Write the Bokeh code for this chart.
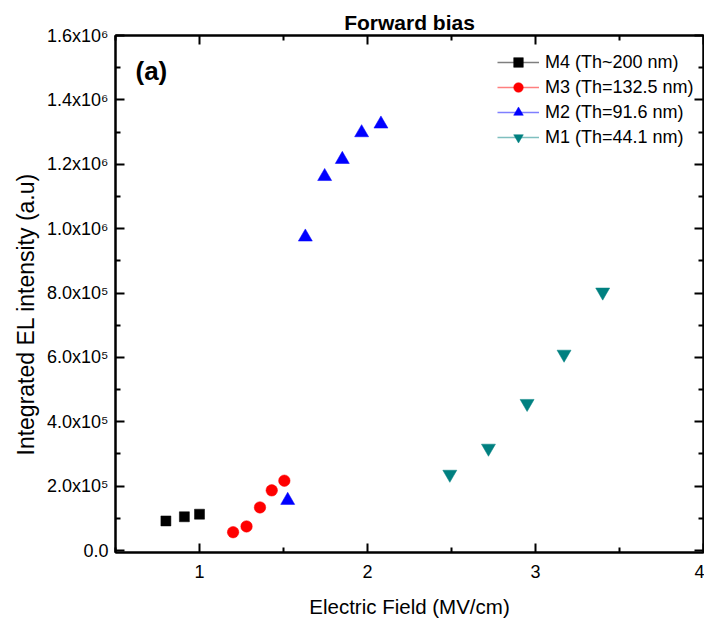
from bokeh.plotting import figure
from bokeh.models import (ColumnDataSource, FixedTicker, LinearAxis, Range1d,
                          Legend, LegendItem, Label, CustomJSTickFormatter, Title)
from bokeh.embed import file_html
from bokeh.resources import INLINE

FONT = "Liberation Sans"

# ---- data ----
m4_x = [0.80, 0.91, 1.00]
m4_y = [9.2e4, 1.05e5, 1.13e5]
m3_x = [1.20, 1.28, 1.36, 1.43, 1.505]
m3_y = [5.7e4, 7.5e4, 1.34e5, 1.87e5, 2.17e5]
m2_x = [1.525, 1.63, 1.745, 1.85, 1.965, 2.08]
m2_y = [1.56e5, 9.74e5, 1.162e6, 1.215e6, 1.298e6, 1.325e6]
m1_x = [2.49, 2.72, 2.95, 3.17, 3.40]
m1_y = [2.37e5, 3.18e5, 4.57e5, 6.10e5, 8.03e5]

series_names = ["M4 (Th~200 nm)", "M3 (Th=132.5 nm)", "M2 (Th=91.6 nm)", "M1 (Th=44.1 nm)"]
series_x = [m4_x, m3_x, m2_x, m1_x]
series_y = [m4_y, m3_y, m2_y, m1_y]
series_colors = ["#000000", "#FF0000", "#0000FF", "#008080"]
series_markers = ["square", "circle", "triangle", "inverted_triangle"]
series_sizes = [10, 11.5, 14, 14]

x_ticks = [1, 2, 3, 4]
x_minor = [0.5, 1.5, 2.5, 3.5]
y_ticks = [0, 2e5, 4e5, 6e5, 8e5, 1.0e6, 1.2e6, 1.4e6, 1.6e6]
y_tick_labels = ["0.0", "2.0x10\u2075", "4.0x10\u2075", "6.0x10\u2075", "8.0x10\u2075",
                 "1.0x10\u2076", "1.2x10\u2076", "1.4x10\u2076", "1.6x10\u2076"]
y_minor = [1e5, 3e5, 5e5, 7e5, 9e5, 1.1e6, 1.3e6, 1.5e6]

p = figure(frame_width=588, frame_height=517,
           x_range=Range1d(0.5, 4.0), y_range=Range1d(-6000, 1.6e6),
           output_backend="svg", toolbar_location=None,
           min_border_left=115, min_border_right=1, min_border_top=35, min_border_bottom=72,
           background_fill_color="white", border_fill_color="white",
           x_axis_type=None, y_axis_type=None)
p.xgrid.visible = False
p.ygrid.visible = False
p.outline_line_color = "black"
p.outline_line_width = 2

p.title.text = "Forward bias"
p.title.align = "center"
p.title.text_font = FONT
p.title.text_font_size = "21px"
p.title.text_font_style = "bold"
p.title.text_color = "black"
p.title.standoff = 4


def style(ax):
    ax.axis_line_width = 2
    ax.major_tick_in = 9
    ax.major_tick_out = 0
    ax.minor_tick_in = 5
    ax.minor_tick_out = 0
    ax.major_tick_line_width = 2
    ax.minor_tick_line_width = 2
    ax.major_label_text_font = FONT
    ax.major_label_text_font_size = "18px"
    ax.major_label_text_color = "black"
    ax.axis_label_text_font = FONT
    ax.axis_label_text_font_size = "20.5px"
    ax.axis_label_text_font_style = "normal"
    ax.axis_label_text_color = "black"


xb = LinearAxis(ticker=FixedTicker(ticks=x_ticks, minor_ticks=x_minor),
                axis_label="Electric Field (MV/cm)")
style(xb)
xb.major_label_standoff = 12
xb.axis_label_standoff = 14
p.add_layout(xb, "below")

yl = LinearAxis(ticker=FixedTicker(ticks=y_ticks, minor_ticks=y_minor),
                major_label_overrides={t: s for t, s in zip(y_ticks, y_tick_labels)})
style(yl)
yl.major_label_standoff = 7
p.add_layout(yl, "left")

blank = "return ''"
xt = LinearAxis(ticker=FixedTicker(ticks=x_ticks, minor_ticks=x_minor),
                formatter=CustomJSTickFormatter(code=blank))
style(xt)
xt.major_label_standoff = 0
p.add_layout(xt, "above")

yr = LinearAxis(ticker=FixedTicker(ticks=y_ticks, minor_ticks=y_minor),
                formatter=CustomJSTickFormatter(code=blank))
style(yr)
yr.major_label_standoff = 0
p.add_layout(yr, "right")

# y-axis title as a side title, so it can sit a little below the frame's middle
ytitle = Title(text="Integrated EL intensity (a.u)", align="left", offset=97,
               standoff=9, text_font=FONT, text_font_size="23px",
               text_font_style="normal", text_color="black")
p.add_layout(ytitle, "left")

items = []
for name, xs, ys, col, mk, sz in zip(series_names, series_x, series_y,
                                      series_colors, series_markers, series_sizes):
    src = ColumnDataSource(data=dict(x=xs, y=ys))
    lr = p.line("x", "y", source=src, line_color=col, line_alpha=0.5, line_width=1.5)
    lr.visible = False
    sr = p.scatter("x", "y", source=src, marker=mk, size=sz,
                   fill_color=col, line_color=col, line_width=0.5)
    items.append(LegendItem(label=name, renderers=[lr, sr]))

legend = Legend(items=items, location=(382, 403), padding=0, spacing=1,
                glyph_width=42, glyph_height=24, label_height=20, label_standoff=6,
                label_text_font=FONT, label_text_font_size="18px", label_text_color="black",
                border_line_color=None, background_fill_alpha=0, click_policy="none")
p.add_layout(legend, "center")

p.add_layout(Label(x=20, y=482, x_units="screen", y_units="screen", text="(a)",
                   text_font=FONT, text_font_size="26px", text_font_style="bold",
                   text_color="black", text_baseline="alphabetic"))

open("out.html", "w").write(file_html(p, INLINE))
